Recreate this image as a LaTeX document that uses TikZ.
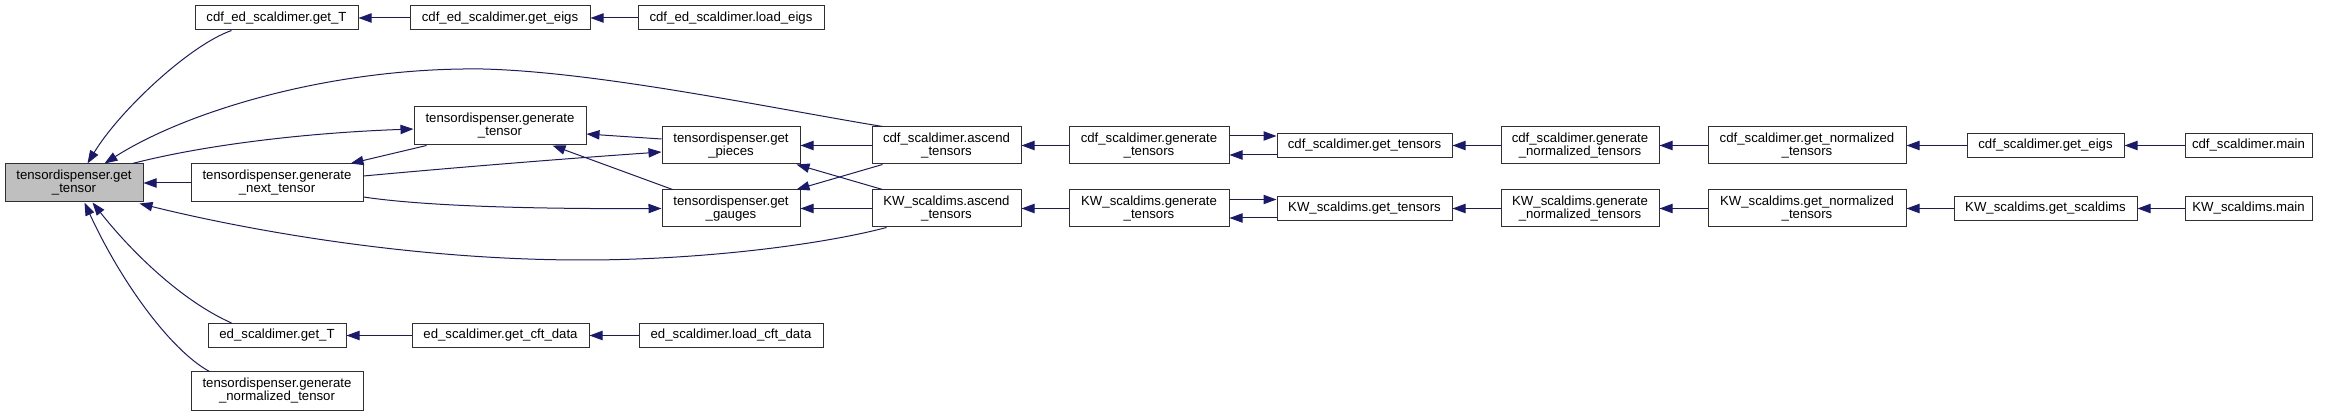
\documentclass[tikz,border=0pt]{standalone}
\usepackage{fontspec}
\setmainfont{Liberation Sans}
\usetikzlibrary{arrows.meta,calc}
\definecolor{edgeblue}{HTML}{191970}
\definecolor{nodeline}{HTML}{303030}
\definecolor{mainfill}{HTML}{BFBFBF}
\begin{document}
\begin{tikzpicture}[x=0.75pt,y=-0.75pt,
  box/.style={draw=nodeline, fill=white, line width=0.75pt, inner sep=0pt, align=center,
    font=\fontsize{9.9pt}{9.75pt}\selectfont},
  wh/.style 2 args={minimum width=#1*0.75pt, minimum height=#2*0.75pt},
  arr/.style={draw=edgeblue, line width=0.75pt, -{Triangle[length=9.75pt,width=7pt]}}]
\useasboundingbox (0,0) rectangle (2326,416);

% nodes
\node[box, fill=mainfill, wh={138}{38}] (gt) at (74,183) {tensordispenser.get\\\_tensor};
\node[box, wh={163}{24}] (cgT) at (276.5,18) {cdf\_ed\_scaldimer.get\_T};
\node[box, wh={180}{24}] (cgE) at (500,18) {cdf\_ed\_scaldimer.get\_eigs};
\node[box, wh={186}{24}] (cLE) at (731,18) {cdf\_ed\_scaldimer.load\_eigs};
\node[box, wh={172}{38}] (gen) at (500,126) {tensordispenser.generate\\\_tensor};
\node[box, wh={172}{38}] (gnext) at (277,183) {tensordispenser.generate\\\_next\_tensor};
\node[box, wh={138}{37}] (pieces) at (731,145.5) {tensordispenser.get\\\_pieces};
\node[box, wh={138}{37}] (gauges) at (731,208.5) {tensordispenser.get\\\_gauges};
\node[box, wh={149}{37}] (cAsc) at (946.5,145.5) {cdf\_scaldimer.ascend\\\_tensors};
\node[box, wh={149}{37}] (kAsc) at (946.5,208.5) {KW\_scaldims.ascend\\\_tensors};
\node[box, wh={160}{37}] (cGen) at (1149,145.5) {cdf\_scaldimer.generate\\\_tensors};
\node[box, wh={160}{37}] (kGen) at (1149,208.5) {KW\_scaldims.generate\\\_tensors};
\node[box, wh={175}{24}] (cGT) at (1364.5,145.5) {cdf\_scaldimer.get\_tensors};
\node[box, wh={175}{24}] (kGT) at (1364.5,208.5) {KW\_scaldims.get\_tensors};
\node[box, wh={158}{37}] (cGN) at (1580,145.5) {cdf\_scaldimer.generate\\\_normalized\_tensors};
\node[box, wh={158}{37}] (kGN) at (1580,208.5) {KW\_scaldims.generate\\\_normalized\_tensors};
\node[box, wh={198}{37}] (cNorm) at (1807,145.5) {cdf\_scaldimer.get\_normalized\\\_tensors};
\node[box, wh={198}{37}] (kNorm) at (1807,208.5) {KW\_scaldims.get\_normalized\\\_tensors};
\node[box, wh={157}{24}] (cEig) at (2045.5,145.5) {cdf\_scaldimer.get\_eigs};
\node[box, wh={183}{24}] (kSc) at (2045.5,208.5) {KW\_scaldims.get\_scaldims};
\node[box, wh={127}{24}] (cMain) at (2248.5,145.5) {cdf\_scaldimer.main};
\node[box, wh={127}{24}] (kMain) at (2248.5,208.5) {KW\_scaldims.main};
\node[box, wh={138}{24}] (eT) at (277,335.5) {ed\_scaldimer.get\_T};
\node[box, wh={177}{24}] (eCft) at (500.5,335.5) {ed\_scaldimer.get\_cft\_data};
\node[box, wh={184}{24}] (eLoad) at (731,335.5) {ed\_scaldimer.load\_cft\_data};
\node[box, wh={172}{38}] (gnorm) at (277,391) {tensordispenser.generate\\\_normalized\_tensor};

% connectors into get_tensor
\draw[arr] ($(cgT.south west)+(37,0)$) .. controls (190,45) and (120,110) .. ($(gt.north west)+(83,0)$);
\draw[arr] ($(cAsc.north west)+(11,0)$) .. controls (770,108) and (600,72) .. (483,69)
  .. controls (330,67) and (185,112) .. ($(gt.north west)+(100,0)$);
\draw[arr] (gnext.west) -- (gt.east);
\draw[arr] ($(kAsc.south west)+(15,0)$) .. controls (820,245) and (700,260) .. (583,260)
  .. controls (400,260) and (230,226) .. ($(gt.south east)+(-4,1)$);
\draw[arr] ($(eT.north west)+(24,0)$) .. controls (180,300) and (130,250) .. ($(gt.south west)+(88,0)$);
\draw[arr] ($(gnorm.north west)+(19,0)$) .. controls (170,350) and (120,280) .. ($(gt.south west)+(80,0)$);

% get_tensor -> generate_tensor
\draw[arr] ($(gt.north west)+(128,0)$) .. controls (200,146) and (300,133) .. ($(gen.west)+(0,3)$);
% generate_tensor -> generate_next_tensor
\draw[arr] ($(gen.south west)+(13,0)$) -- ($(gnext.north east)+(-13,0)$);
% generate_next_tensor -> pieces / gauges
\draw[arr] ($(gnext.east)+(0,-7)$) .. controls (450,168) and (560,159) .. ($(pieces.west)+(0,6.5)$);
\draw[arr] ($(gnext.east)+(0,14)$) .. controls (430,207) and (550,209) .. (gauges.west);

% pieces / gauges -> generate_tensor
\draw[arr] ($(pieces.west)+(0,-6.5)$) -- ($(gen.east)+(0,8)$);
\draw[arr] ($(gauges.north west)+(11,0)$) -- ($(gen.south west)+(139,0)$);

% ascend -> pieces / gauges
\draw[arr] (cAsc.west) -- (pieces.east);
\draw[arr] ($(kAsc.north west)+(11,0)$) -- ($(pieces.south east)+(-4,0)$);
\draw[arr] ($(cAsc.south west)+(11,0)$) -- ($(gauges.north east)+(-4,0)$);
\draw[arr] (kAsc.west) -- (gauges.east);

% generate_tensors -> ascend
\draw[arr] (cGen) -- (cAsc);
\draw[arr] (kGen) -- (kAsc);

% generate_tensors <-> get_tensors
\draw[arr] ($(cGen.east)+(0,-9.5)$) -- ($(cGT.west)+(0,-9.5)$);
\draw[arr] ($(cGT.west)+(0,9.5)$) -- ($(cGen.east)+(0,9.5)$);
\draw[arr] ($(kGen.east)+(0,-9)$) -- ($(kGT.west)+(0,-9)$);
\draw[arr] ($(kGT.west)+(0,9.5)$) -- ($(kGen.east)+(0,9.5)$);

% right chains
\draw[arr] (cGN) -- (cGT);
\draw[arr] (cNorm) -- (cGN);
\draw[arr] (cEig) -- (cNorm);
\draw[arr] (cMain) -- (cEig);
\draw[arr] (kGN) -- (kGT);
\draw[arr] (kNorm) -- (kGN);
\draw[arr] (kSc) -- (kNorm);
\draw[arr] (kMain) -- (kSc);

% top and bottom chains
\draw[arr] (cgE) -- (cgT);
\draw[arr] (cLE) -- (cgE);
\draw[arr] (eCft) -- (eT);
\draw[arr] (eLoad) -- (eCft);
\end{tikzpicture}
\end{document}
